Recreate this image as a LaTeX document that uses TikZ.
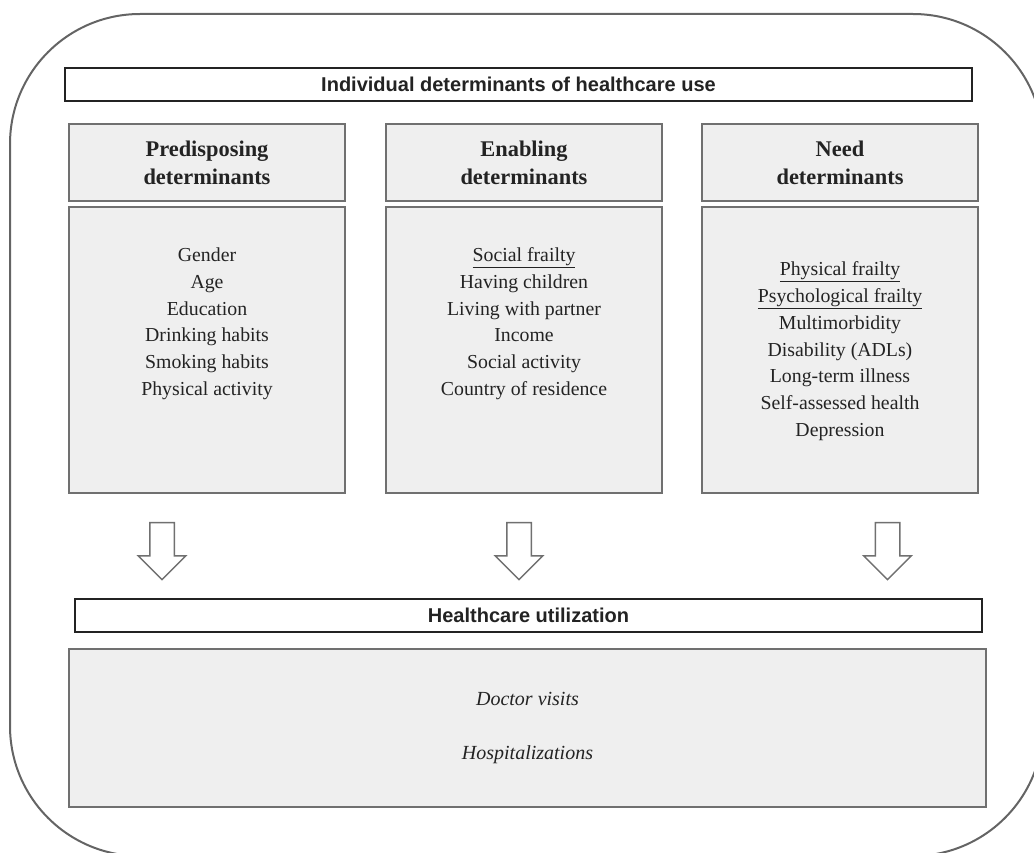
\documentclass[tikz,border=0pt]{standalone}
\usepackage{fontspec}
\setmainfont{Liberation Serif}
\setsansfont{Liberation Sans}
\usepackage{xcolor}
\definecolor{cinzaF}{RGB}{239,239,239}
\definecolor{cinzaB}{RGB}{112,112,112}
\definecolor{cinzaE}{RGB}{100,100,100}
\definecolor{preto}{RGB}{35,35,35}
\usepackage{tikz}
\usetikzlibrary{shapes.arrows,positioning,calc}

\begin{document}
\begin{tikzpicture}[x=1pt, y=-1pt,
  faixa/.style={draw=preto, fill=white, line width=2pt,
    minimum width=907pt, minimum height=33pt, text=preto,
    font=\sffamily\bfseries\fontsize{20}{24}\selectfont},
  cabeca/.style={draw=cinzaB, fill=cinzaF, line width=2.5pt,
    minimum width=276pt, minimum height=77pt, align=center, text=preto,
    font=\bfseries\fontsize{22.4}{28}\selectfont},
  corpo/.style={draw=cinzaB, fill=cinzaF, line width=2.5pt,
    minimum width=276pt, minimum height=286pt},
  lista/.style={align=center, text=preto, font=\fontsize{19.8}{26.8}\selectfont},
  seta/.style={single arrow, draw=cinzaB, fill=white, line width=1.5pt,
    rotate=-90, minimum height=57pt, inner sep=11.5pt,
    single arrow head extend=11.5pt, single arrow head indent=0pt}]
        \path[use as bounding box] (0,0) rectangle (1034,853);
        \clip (0,0) rectangle (1034,853);
        % moldura exterior
        \draw[cinzaE, line width=2pt, rounded corners=130pt] (10,14) rectangle (1043,856);
        \node[faixa] (titulo) at (518.5,84.5) {Individual determinants of healthcare use};
        \foreach \n/\x/\txt in {
          pred/207/{Predisposing\\determinants},
          enab/524/{Enabling\\determinants},
          need/840/{Need\\determinants}%
        }{
          \node[cabeca] (\n) at (\x,162.5) {\txt};
          \node[corpo] (\n2) at (\x,350) {};
        }
        \node[lista] (lpred) at ($(pred2.north)+(0,118)$)
        {Gender\\Age\\Education\\Drinking habits\\Smoking habits\\Physical activity};
        \node[lista] (lenab) at ($(enab2.north)+(0,118)$)
        {\underline{Social frailty}\\Having children\\Living with partner\\Income\\Social activity\\Country of residence};
        \node[lista] (lneed) at ($(need2.north)+(0,145.5)$)
        {\underline{Physical frailty}\\\underline{Psychological frailty}\\Multimorbidity\\Disability (ADLs)\\Long-term illness\\Self-assessed health\\Depression};
        % setas
        \foreach \i/\x in {1/162,2/519,3/887.5}{
          \node[seta] (seta\i) at (\x,545) {};
        }
        \node[faixa] (util) at (528.5,615) {Healthcare utilization};
        \node[corpo, minimum width=917pt, minimum height=158pt] (usos) at (527.5,728) {};
        \node[lista, font=\itshape\fontsize{20}{54}\selectfont] (lusos) at (usos.center)
        {Doctor visits\\Hospitalizations};
      \end{tikzpicture}
\end{document}
